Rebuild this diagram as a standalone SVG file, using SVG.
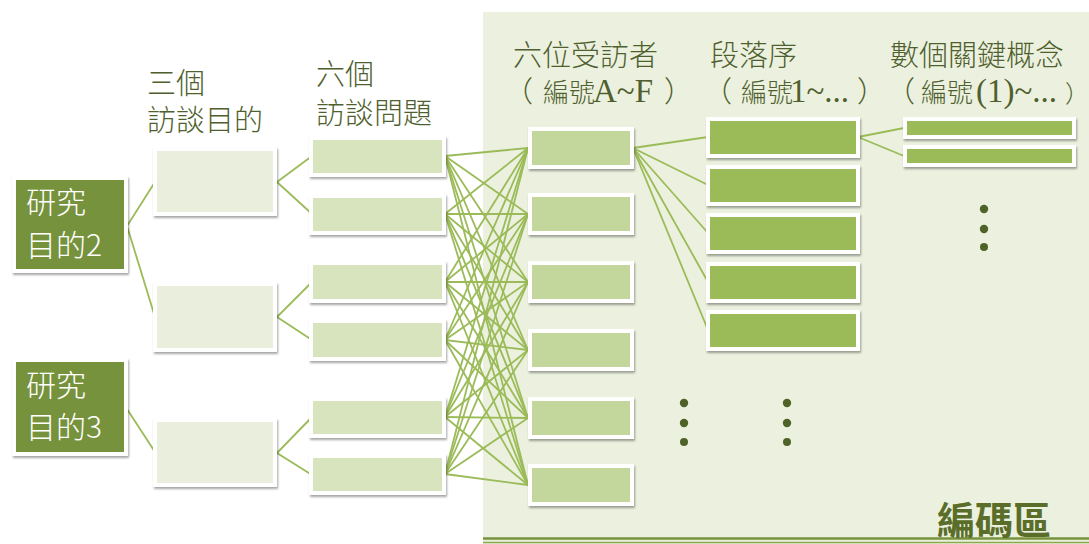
<svg xmlns="http://www.w3.org/2000/svg" width="1089" height="544" viewBox="0 0 1089 544">
<defs>
<filter id="sh" x="-10%" y="-20%" width="125%" height="150%">
<feDropShadow dx="1" dy="2" stdDeviation="1.3" flood-color="#000" flood-opacity="0.35"/>
</filter>
<style>
.fr{fill:#fff;filter:url(#sh)}
.dk{fill:#76923C}
.o{fill:#E9EFDC}
.q{fill:#D7E4BD}
.r{fill:#C3D69B}
.p{fill:#9BBB59}
.cn line{stroke:#9BBB59;stroke-width:1.8;fill:none}
.t{font-family:"Noto Sans CJK TC","Noto Sans CJK SC",sans-serif;font-size:29px;font-weight:300;fill:#505F2F}
.w{font-family:"Noto Sans CJK TC","Noto Sans CJK SC",sans-serif;font-size:30px;font-weight:300;fill:#fff}
.s{font-family:"Liberation Serif",serif;font-size:33px;font-weight:normal}
.dot{fill:#4F6228}
</style>
</defs>
<rect x="0" y="0" width="1089" height="544" fill="#fff"/>
<rect id="coding-area" x="483" y="12" width="606" height="532" fill="#EBF1DE"/>
<line x1="483" y1="538.5" x2="1089" y2="538.5" stroke="#77933C" stroke-width="2.5"/>
<line x1="483" y1="542.5" x2="1089" y2="542.5" stroke="#8BAA4E" stroke-width="1.5"/>

<g id="connectors" class="cn">
<line x1="127" y1="226" x2="155" y2="182"/>
<line x1="127" y1="226" x2="155" y2="317"/>
<line x1="127" y1="409" x2="155" y2="452"/>
<line x1="277" y1="182" x2="312" y2="156"/>
<line x1="277" y1="182" x2="312" y2="214"/>
<line x1="277" y1="317" x2="312" y2="282"/>
<line x1="277" y1="317" x2="312" y2="340"/>
<line x1="277" y1="453" x2="312" y2="417"/>
<line x1="277" y1="453" x2="312" y2="475"/>
<line x1="445" y1="156" x2="528" y2="148"/><line x1="445" y1="156" x2="528" y2="214"/><line x1="445" y1="156" x2="528" y2="282"/><line x1="445" y1="156" x2="528" y2="350"/><line x1="445" y1="156" x2="528" y2="418"/><line x1="445" y1="156" x2="528" y2="485"/>
<line x1="445" y1="214" x2="528" y2="148"/><line x1="445" y1="214" x2="528" y2="214"/><line x1="445" y1="214" x2="528" y2="282"/><line x1="445" y1="214" x2="528" y2="350"/><line x1="445" y1="214" x2="528" y2="418"/><line x1="445" y1="214" x2="528" y2="485"/>
<line x1="445" y1="282" x2="528" y2="148"/><line x1="445" y1="282" x2="528" y2="214"/><line x1="445" y1="282" x2="528" y2="282"/><line x1="445" y1="282" x2="528" y2="350"/><line x1="445" y1="282" x2="528" y2="418"/><line x1="445" y1="282" x2="528" y2="485"/>
<line x1="445" y1="340" x2="528" y2="148"/><line x1="445" y1="340" x2="528" y2="214"/><line x1="445" y1="340" x2="528" y2="282"/><line x1="445" y1="340" x2="528" y2="350"/><line x1="445" y1="340" x2="528" y2="418"/><line x1="445" y1="340" x2="528" y2="485"/>
<line x1="445" y1="417" x2="528" y2="148"/><line x1="445" y1="417" x2="528" y2="214"/><line x1="445" y1="417" x2="528" y2="282"/><line x1="445" y1="417" x2="528" y2="350"/><line x1="445" y1="417" x2="528" y2="418"/><line x1="445" y1="417" x2="528" y2="485"/>
<line x1="445" y1="474" x2="528" y2="148"/><line x1="445" y1="474" x2="528" y2="214"/><line x1="445" y1="474" x2="528" y2="282"/><line x1="445" y1="474" x2="528" y2="350"/><line x1="445" y1="474" x2="528" y2="418"/><line x1="445" y1="474" x2="528" y2="485"/>
<line x1="633" y1="148" x2="708" y2="137"/>
<line x1="633" y1="148" x2="708" y2="185"/>
<line x1="633" y1="148" x2="708" y2="233"/>
<line x1="633" y1="148" x2="708" y2="282"/>
<line x1="633" y1="148" x2="708" y2="330"/>
<line x1="858" y1="137" x2="904" y2="128"/>
<line x1="858" y1="137" x2="904" y2="156"/>
</g>

<g id="goal2"><rect class="fr" x="12" y="176" width="116" height="97"/><rect class="dk" x="16" y="180" width="108" height="89"/>
<text class="w" x="26" y="213">研究</text><text class="w" x="26" y="256">目的2</text></g>
<g id="goal3"><rect class="fr" x="12" y="358" width="116" height="98"/><rect class="dk" x="16" y="362" width="108" height="90"/>
<text class="w" x="26" y="396">研究</text><text class="w" x="26" y="438">目的3</text></g>

<g id="aim1"><rect class="fr" x="153" y="147" width="124" height="69"/><rect class="o" x="157" y="151" width="116" height="61"/></g>
<g id="aim2"><rect class="fr" x="153" y="282" width="124" height="70"/><rect class="o" x="157" y="286" width="116" height="62"/></g>
<g id="aim3"><rect class="fr" x="153" y="418" width="124" height="69"/><rect class="o" x="157" y="422" width="116" height="61"/></g>

<g id="q1"><rect class="fr" x="309" y="136" width="137" height="41"/><rect class="q" x="313" y="140" width="129" height="33"/></g>
<g id="q2"><rect class="fr" x="309" y="194" width="137" height="41"/><rect class="q" x="313" y="198" width="129" height="33"/></g>
<g id="q3"><rect class="fr" x="309" y="261" width="137" height="42"/><rect class="q" x="313" y="265" width="129" height="34"/></g>
<g id="q4"><rect class="fr" x="309" y="319" width="137" height="42"/><rect class="q" x="313" y="323" width="129" height="34"/></g>
<g id="q5"><rect class="fr" x="309" y="397" width="137" height="41"/><rect class="q" x="313" y="401" width="129" height="33"/></g>
<g id="q6"><rect class="fr" x="309" y="454" width="137" height="41"/><rect class="q" x="313" y="458" width="129" height="33"/></g>

<g id="r1"><rect class="fr" x="528" y="127" width="106" height="42"/><rect class="r" x="532" y="131" width="98" height="34"/></g>
<g id="r2"><rect class="fr" x="528" y="193" width="106" height="42"/><rect class="r" x="532" y="197" width="98" height="34"/></g>
<g id="r3"><rect class="fr" x="528" y="261" width="106" height="42"/><rect class="r" x="532" y="265" width="98" height="34"/></g>
<g id="r4"><rect class="fr" x="528" y="329" width="106" height="42"/><rect class="r" x="532" y="333" width="98" height="34"/></g>
<g id="r5"><rect class="fr" x="528" y="397" width="106" height="42"/><rect class="r" x="532" y="401" width="98" height="34"/></g>
<g id="r6"><rect class="fr" x="528" y="464" width="106" height="42"/><rect class="r" x="532" y="468" width="98" height="34"/></g>

<g id="p1"><rect class="fr" x="706" y="117" width="154" height="41"/><rect class="p" x="710" y="121" width="146" height="33"/></g>
<g id="p2"><rect class="fr" x="706" y="165" width="154" height="41"/><rect class="p" x="710" y="169" width="146" height="33"/></g>
<g id="p3"><rect class="fr" x="706" y="213" width="154" height="41"/><rect class="p" x="710" y="217" width="146" height="33"/></g>
<g id="p4"><rect class="fr" x="706" y="262" width="154" height="41"/><rect class="p" x="710" y="266" width="146" height="33"/></g>
<g id="p5"><rect class="fr" x="706" y="310" width="154" height="41"/><rect class="p" x="710" y="314" width="146" height="33"/></g>

<g id="k1"><rect class="fr" x="903" y="117" width="173" height="22"/><rect class="p" x="907" y="121" width="165" height="14"/></g>
<g id="k2"><rect class="fr" x="903" y="145" width="173" height="22"/><rect class="p" x="907" y="149" width="165" height="14"/></g>

<g id="dots">
<circle class="dot" cx="684" cy="403" r="4.2"/><circle class="dot" cx="684" cy="423" r="4.2"/><circle class="dot" cx="684" cy="442" r="4"/>
<circle class="dot" cx="787" cy="403" r="4.2"/><circle class="dot" cx="787" cy="423" r="4.2"/><circle class="dot" cx="787" cy="442" r="4"/>
<circle class="dot" cx="984" cy="209" r="4.2"/><circle class="dot" cx="984" cy="229" r="4.2"/><circle class="dot" cx="984" cy="247" r="4"/>
</g>

<g id="labels">
<text class="t" x="147" y="94">三個</text>
<text class="t" x="147" y="131">訪談目的</text>
<text class="t" x="316" y="85">六個</text>
<text class="t" x="316" y="124">訪談問題</text>
<text class="t" x="513" y="66">六位受訪者</text>
<text class="t" x="710" y="66">段落序</text>
<text class="t" x="890" y="66">數個關鍵概念</text>
<text class="t" y="102"><tspan x="504">（</tspan><tspan x="543" font-size="26">編號</tspan><tspan class="s" x="593">A~F</tspan><tspan x="664">）</tspan></text>
<text class="t" y="102"><tspan x="703">（</tspan><tspan x="741" font-size="26">編號</tspan><tspan class="s" x="790">1~...</tspan><tspan x="857">）</tspan></text>
<text class="t" y="102"><tspan x="886">（</tspan><tspan x="921" font-size="26">編號</tspan><tspan class="s" x="976">(1)~...</tspan><tspan x="1065" font-size="24">）</tspan></text>
<text x="937" y="534" font-family="Noto Sans CJK TC, sans-serif" font-size="38" font-weight="bold" fill="#5A6E2A">編碼區</text>
</g>
</svg>
